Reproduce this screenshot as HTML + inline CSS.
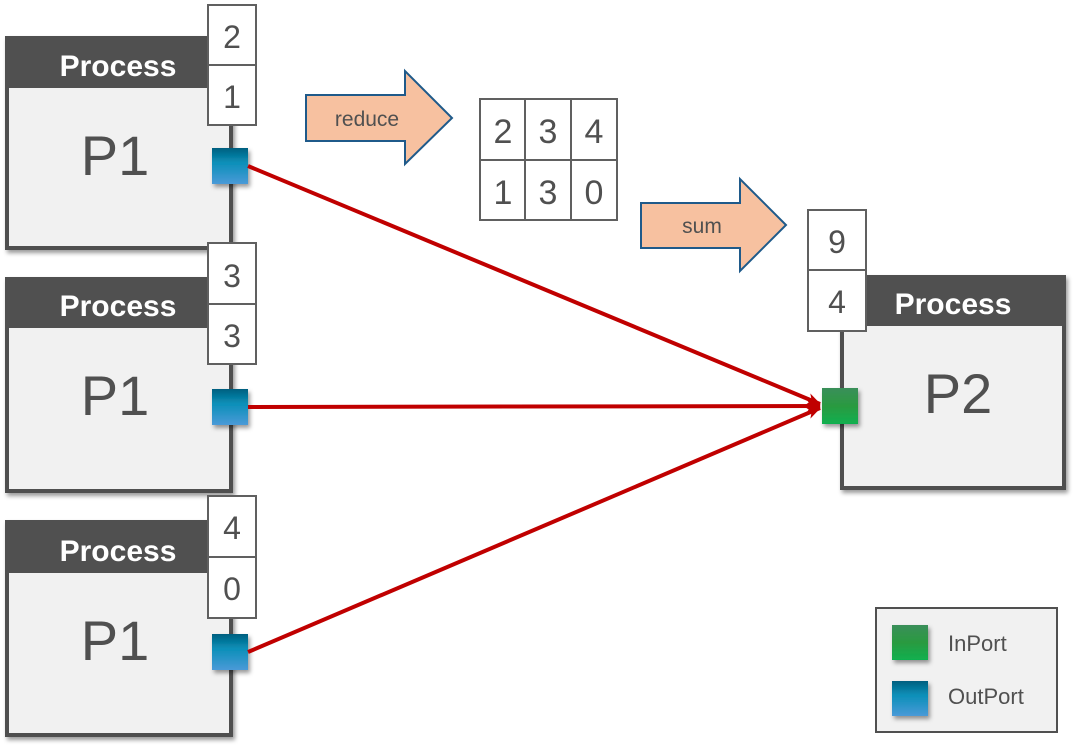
<!DOCTYPE html>
<html><head><style>body{margin:0;background:#fff}svg{display:block}</style></head><body>
<svg width="1081" height="752" viewBox="0 0 1081 752" font-family="Liberation Sans, sans-serif">
<defs>
<linearGradient id="gb" x1="0" y1="0" x2="0" y2="1"><stop offset="0" stop-color="#005f7f"/><stop offset=".4" stop-color="#0a8fb8"/><stop offset="1" stop-color="#4a9ad8"/></linearGradient>
<linearGradient id="gg" x1="0" y1="0" x2="0" y2="1"><stop offset="0" stop-color="#3a8f5a"/><stop offset=".5" stop-color="#2a9a40"/><stop offset="1" stop-color="#10b050"/></linearGradient>
<filter id="sh" x="-20%" y="-20%" width="150%" height="150%"><feDropShadow dx="2" dy="3" stdDeviation="2" flood-opacity=".4"/></filter>
<marker id="ah" markerWidth="14" markerHeight="12" refX="13" refY="6" orient="auto" markerUnits="userSpaceOnUse" viewBox="0 0 14 12"><path d="M0,0 L14,6 L0,12 L4,6 z" fill="#c00000"/></marker>
</defs>
<g>
<rect x="7" y="38" width="224" height="210" fill="#f1f1f1" stroke="#505050" stroke-width="4" filter="url(#sh)"/>
<rect x="5" y="36" width="228" height="52" fill="#505050"/>
<text x="118" y="76" font-size="30" font-weight="bold" fill="#fff" text-anchor="middle">Process</text>
<text x="115" y="175" font-size="56" fill="#505050" text-anchor="middle">P1</text>
<rect x="208" y="5" width="48" height="60" fill="#fff" stroke="#606060" stroke-width="2"/>
<rect x="208" y="65" width="48" height="60" fill="#fff" stroke="#606060" stroke-width="2"/>
<text x="232" y="48" font-size="32" fill="#505050" text-anchor="middle">2</text>
<text x="232" y="108" font-size="32" fill="#505050" text-anchor="middle">1</text>
<rect x="212" y="148" width="36" height="36" fill="url(#gb)" filter="url(#sh)"/>
</g>
<g>
<rect x="7" y="279" width="224" height="212" fill="#f1f1f1" stroke="#505050" stroke-width="4" filter="url(#sh)"/>
<rect x="5" y="277" width="228" height="51" fill="#505050"/>
<text x="118" y="316" font-size="30" font-weight="bold" fill="#fff" text-anchor="middle">Process</text>
<text x="115" y="415" font-size="56" fill="#505050" text-anchor="middle">P1</text>
<rect x="208" y="243" width="48" height="61" fill="#fff" stroke="#606060" stroke-width="2"/>
<rect x="208" y="304" width="48" height="60" fill="#fff" stroke="#606060" stroke-width="2"/>
<text x="232" y="287" font-size="32" fill="#505050" text-anchor="middle">3</text>
<text x="232" y="347" font-size="32" fill="#505050" text-anchor="middle">3</text>
<rect x="212" y="389" width="36" height="36" fill="url(#gb)" filter="url(#sh)"/>
</g>
<g>
<rect x="7" y="522" width="224" height="213" fill="#f1f1f1" stroke="#505050" stroke-width="4" filter="url(#sh)"/>
<rect x="5" y="520" width="228" height="53" fill="#505050"/>
<text x="118" y="561" font-size="30" font-weight="bold" fill="#fff" text-anchor="middle">Process</text>
<text x="115" y="660" font-size="56" fill="#505050" text-anchor="middle">P1</text>
<rect x="208" y="496" width="48" height="61" fill="#fff" stroke="#606060" stroke-width="2"/>
<rect x="208" y="557" width="48" height="61" fill="#fff" stroke="#606060" stroke-width="2"/>
<text x="232" y="539" font-size="32" fill="#505050" text-anchor="middle">4</text>
<text x="232" y="600" font-size="32" fill="#505050" text-anchor="middle">0</text>
<rect x="212" y="634" width="36" height="36" fill="url(#gb)" filter="url(#sh)"/>
</g>
<g>
<rect x="842" y="277" width="222" height="211" fill="#f1f1f1" stroke="#505050" stroke-width="4" filter="url(#sh)"/>
<rect x="840" y="275" width="226" height="51" fill="#505050"/>
<text x="953" y="314" font-size="30" font-weight="bold" fill="#fff" text-anchor="middle">Process</text>
<text x="958" y="413" font-size="56" fill="#505050" text-anchor="middle">P2</text>
<rect x="808" y="210" width="58" height="60" fill="#fff" stroke="#606060" stroke-width="2"/>
<rect x="808" y="270" width="58" height="61" fill="#fff" stroke="#606060" stroke-width="2"/>
<text x="837" y="253" font-size="32" fill="#505050" text-anchor="middle">9</text>
<text x="837" y="313" font-size="32" fill="#505050" text-anchor="middle">4</text>
<rect x="822" y="388" width="36" height="36" fill="url(#gg)" filter="url(#sh)"/>
</g>
<g stroke="#c00000" stroke-width="4" marker-end="url(#ah)">
<line x1="248" y1="166" x2="820" y2="404"/>
<line x1="248" y1="407" x2="820" y2="406"/>
<line x1="248" y1="652" x2="820" y2="408"/>
</g>
<path d="M306,95 H405 V71 L452,118 L405,164 V141 H306 Z" fill="#f7c1a0" stroke="#1f5a8a" stroke-width="2"/>
<text x="367" y="126" font-size="21" fill="#505050" text-anchor="middle">reduce</text>
<path d="M641,203 H740 V179 L786,225 L740,271 V248 H641 Z" fill="#f7c1a0" stroke="#1f5a8a" stroke-width="2"/>
<text x="702" y="233" font-size="21" fill="#505050" text-anchor="middle">sum</text>
<rect x="480" y="99" width="137" height="121" fill="#fff" stroke="#606060" stroke-width="2"/>
<g stroke="#606060" stroke-width="2"><line x1="525" y1="99" x2="525" y2="220"/><line x1="571" y1="99" x2="571" y2="220"/><line x1="480" y1="160" x2="617" y2="160"/></g>
<g font-size="34" fill="#505050" text-anchor="middle">
<text x="503" y="143">2</text><text x="548" y="143">3</text><text x="594" y="143">4</text>
<text x="503" y="204">1</text><text x="548" y="204">3</text><text x="594" y="204">0</text>
</g>
<rect x="876" y="608" width="181" height="124" fill="#f1f1f1" stroke="#505050" stroke-width="2"/>
<rect x="892" y="625" width="36" height="35" fill="url(#gg)" filter="url(#sh)"/>
<rect x="892" y="681" width="36" height="35" fill="url(#gb)" filter="url(#sh)"/>
<text x="948" y="651" font-size="22" fill="#505050">InPort</text>
<text x="948" y="704" font-size="22" fill="#505050">OutPort</text>
</svg>
</body></html>
